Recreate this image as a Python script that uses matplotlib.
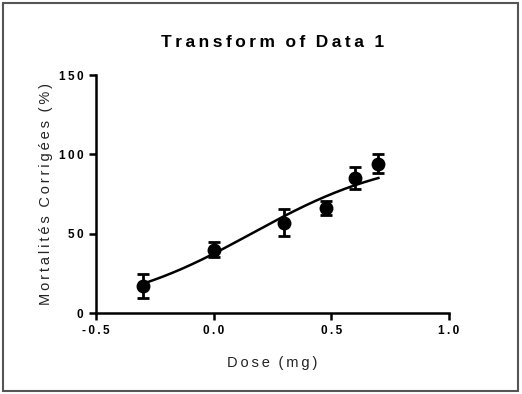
import numpy as np
import matplotlib
matplotlib.use("Agg")
import matplotlib.pyplot as plt

# data
dose = [-0.3, 0.0, 0.3, 0.477, 0.6, 0.7]
mortality = [17, 40, 57, 66, 85, 94]
err = [7.5, 5, 8.5, 4.5, 7, 6]

# fitted 4-parameter logistic curve parameters
fit_bottom = 0.0
fit_top = 100.0
fit_logec50 = 0.16
fit_hill = 1.4

xticks = [-0.5, 0.0, 0.5, 1.0]
yticks = [0, 50, 100, 150]

def spaced(s, sep="\u2009"):
    return sep.join(s).replace(sep + " " + sep, sep * 3)

plt.rcParams['font.family'] = ['Liberation Sans', 'DejaVu Sans']

fig = plt.figure(figsize=(5.22, 3.94), dpi=100)
ax = fig.add_axes([96/522, 81/394, 353/522, 238/394])

xc = np.linspace(min(dose), max(dose), 200)
yc = fit_bottom + (fit_top - fit_bottom) / (1 + 10 ** ((fit_logec50 - xc) * fit_hill))
ax.plot(xc, yc, color='black', lw=1.8, zorder=2)
ax.errorbar(dose, mortality, yerr=err, fmt='o', color='black', ms=9,
            elinewidth=2, capsize=4, capthick=2, zorder=3)

ax.set_xlim(-0.5, 1.0)
ax.set_ylim(0, 150)
ax.set_xticks(xticks)
ax.set_yticks(yticks)
ax.set_xticklabels([spaced(f"{v:.1f}") for v in xticks], fontweight='bold', fontsize=8.5)
ax.set_yticklabels([spaced(str(v)) for v in yticks], fontweight='bold', fontsize=8.5)
for s in ['top', 'right']:
    ax.spines[s].set_visible(False)
for s in ['left', 'bottom']:
    ax.spines[s].set_linewidth(1.8)
ax.tick_params(width=1.8, length=5, direction='out', pad=4)

ax.set_xlabel(spaced("Dose (mg)"), fontsize=10.5, color='#222222', labelpad=13)
ax.set_ylabel(spaced("Mortalités Corrigées (%)"), fontsize=10.5, color='#222222', labelpad=4)
ax.set_title(spaced("Transform of Data 1"), fontsize=12.5, fontweight='bold', pad=20)

fig.patches.append(plt.Rectangle((3/522, 3/394), 515/522, 388/394, transform=fig.transFigure,
                                 fill=False, edgecolor='#555555', lw=1.5))

fig.savefig("out.png", dpi=100)
